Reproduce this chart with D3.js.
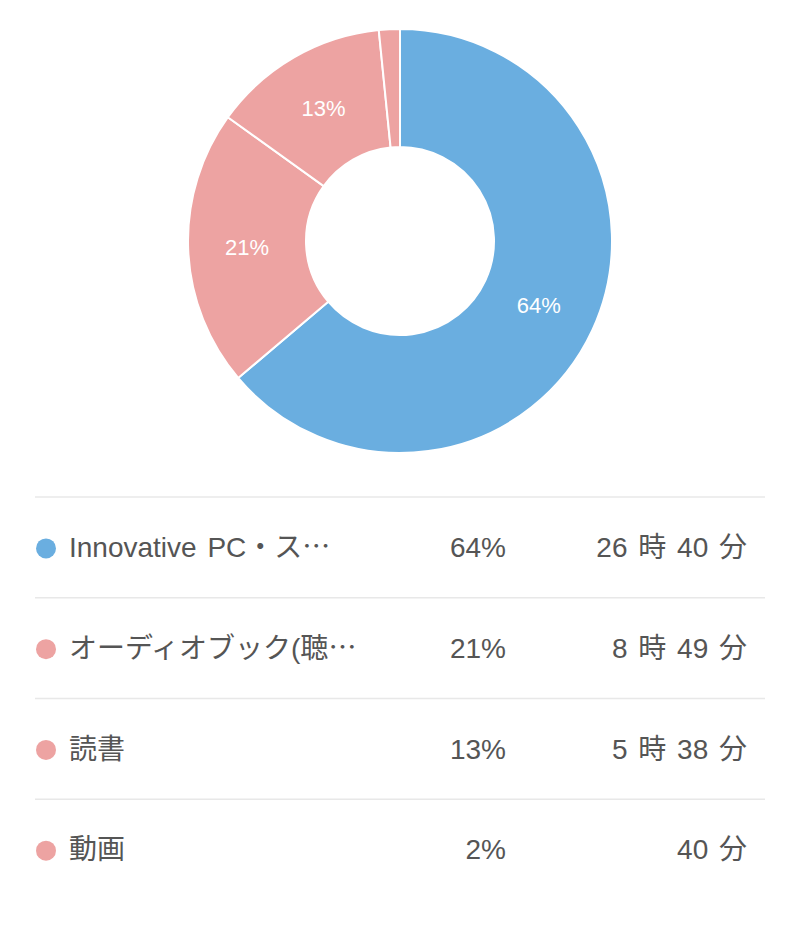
<!DOCTYPE html>
<html>
<head>
<meta charset="utf-8">
<script src="https://cdn.jsdelivr.net/npm/d3@7"></script>
<style>
  body { margin: 0; background: #fff; }
  text { font-family: "Liberation Sans", "Noto Sans CJK JP", sans-serif; }
</style>
</head>
<body>
<div id="chart"></div>
<script>
const width = 800
const height = 927

// data (minutes per category)
const categories = ["Innovative PC・ス", "オーディオブック(聴", "読書", "動画"]
const truncated = [true, true, false, false]
const minutes = [1600, 529, 338, 40]
const percents = ["64%", "21%", "13%", "2%"]
const durations = ["26 時 40 分", "8 時 49 分", "5 時 38 分", "40 分"]
const colors = ["#6aaee0", "#eda3a2", "#eda3a2", "#eda3a2"]

const data = categories.map((c, i) => ({name: c, cut: truncated[i], value: minutes[i], pct: percents[i], dur: durations[i], color: colors[i]}))

const svg = d3.select("#chart").append("svg").attr("width", width).attr("height", height)

// donut
const cx = 400, cy = 241
const outerR = 212, innerR = 94

const pie = d3.pie().value(d => d.value).sort(null)
const arc = d3.arc().innerRadius(innerR).outerRadius(outerR)

const donut = svg.append("g").attr("transform", `translate(${cx},${cy})`)

donut.selectAll("path").data(pie(data))
    .join("path")
        .attr("d", arc)
        .attr("fill", d => d.data.color)
        .attr("stroke", "#fff")
        .attr("stroke-width", 2)

donut.selectAll("text").data(pie(data).filter(d => d.data.value / d3.sum(minutes) > 0.05))
    .join("text")
        .attr("transform", d => `translate(${arc.centroid(d)})`)
        .attr("text-anchor", "middle")
        .attr("dy", "0.35em")
        .attr("fill", "#fff")
        .attr("font-size", 22)
        .text(d => d.data.pct)

// legend table
const rowY = d3.scaleBand().domain(categories).range([497, 900]).paddingInner(0)

const rows = svg.append("g").selectAll("g").data(data)
    .join("g")
        .attr("transform", d => `translate(0,${rowY(d.name)})`)

rows.append("line")
    .attr("x1", 35).attr("x2", 765)
    .attr("y1", 0).attr("y2", 0)
    .attr("stroke", "#e8e8e8")
    .attr("stroke-width", 1.5)

const mid = rowY.bandwidth() / 2

rows.append("circle")
    .attr("cx", 46).attr("cy", mid + 1)
    .attr("r", 10)
    .attr("fill", d => d.color)

const names = rows.append("text")
    .attr("x", 69).attr("y", mid)
    .attr("dy", "0.35em")
    .attr("fill", "#555")
    .attr("font-size", 28)
    .style("word-spacing", "3px")
    .text(d => d.name)

names.filter(d => d.cut).append("tspan")
    .attr("font-family", "Noto Sans CJK JP")
    .text("…")

rows.append("text")
    .attr("x", 506).attr("y", mid)
    .attr("dy", "0.35em")
    .attr("text-anchor", "end")
    .attr("fill", "#555")
    .attr("font-size", 28)
    .text(d => d.pct)

rows.append("text")
    .attr("x", 747).attr("y", mid)
    .attr("dy", "0.35em")
    .attr("text-anchor", "end")
    .attr("fill", "#555")
    .attr("font-size", 28)
    .style("word-spacing", "3px")
    .text(d => d.dur)
</script>
</body>
</html>
